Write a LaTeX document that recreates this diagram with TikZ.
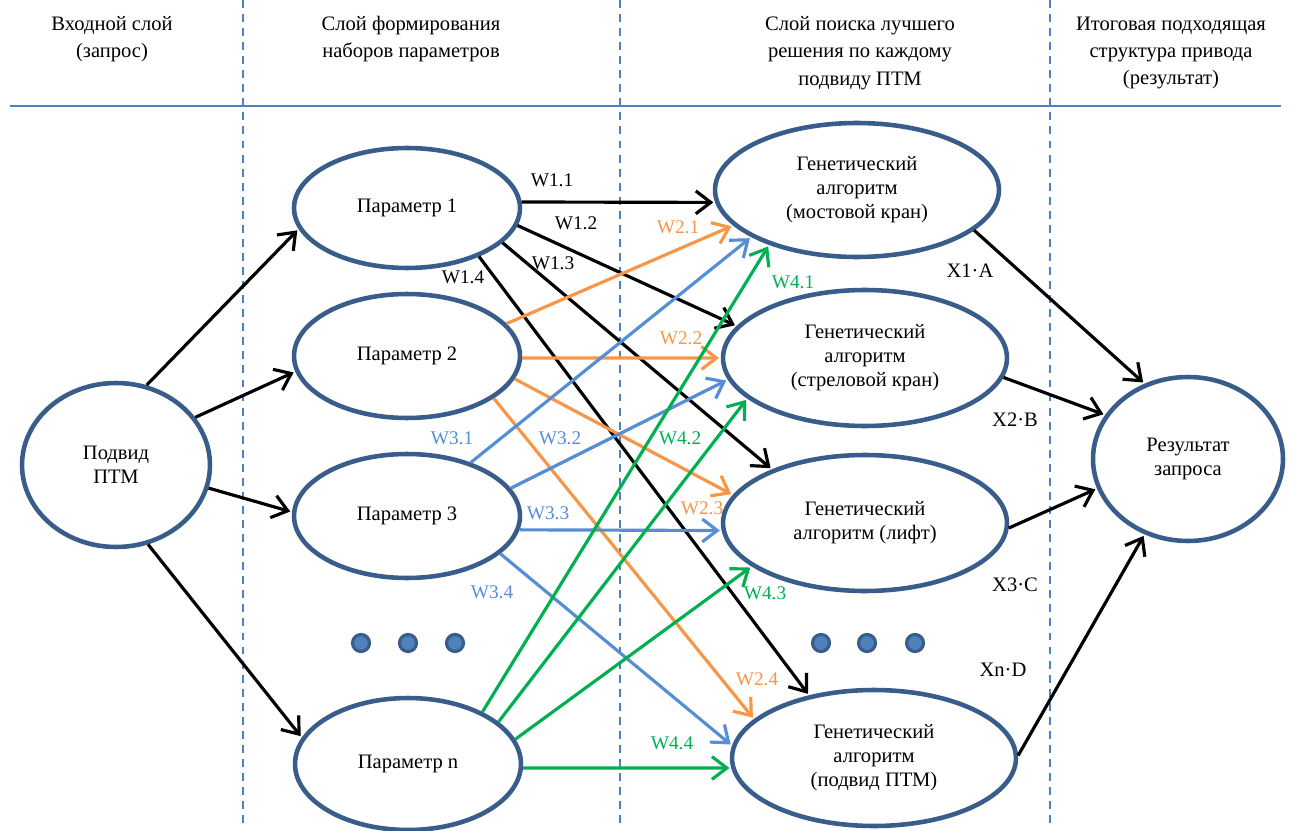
\documentclass[tikz,border=0pt]{standalone}
\usepackage{fontspec}
\setmainfont{Liberation Serif}
\usetikzlibrary{arrows.meta,shapes.geometric}

\definecolor{nodeblue}{HTML}{385D8A}
\definecolor{lineblue}{HTML}{4F81BD}
\definecolor{wblue}{HTML}{558ED5}
\definecolor{worange}{HTML}{F79646}
\definecolor{wgreen}{HTML}{00B050}

\tikzset{
  layer/.style={ellipse, draw=nodeblue, line width=2.6pt, inner sep=0pt,
    align=center, font=\fontsize{11.7}{13.7}\selectfont},
  head/.style={align=center, font=\fontsize{11.7}{15.6}\selectfont},
  divider/.style={draw=lineblue, line width=0.85pt, dash pattern=on 4.5pt off 3.5pt},
  rule/.style={draw=lineblue, line width=1.2pt},
  moredots/.style={circle, draw=nodeblue, fill=lineblue, line width=1.8pt,
    minimum size=0.34cm, inner sep=0pt},
  wire/.style={line width=1.8pt},
  wlabel/.style={font=\fontsize{11}{13}\selectfont, inner sep=0pt},
  xlabel/.style={font=\fontsize{11.7}{13}\selectfont, inner sep=0pt}
}

\begin{document}
\begin{tikzpicture}[x=0.02cm, y=-0.02cm, shorten >=1pt,
    >={Straight Barb[length=8.5pt,width=13pt]}]
  \useasboundingbox (0,0) rectangle (1295,831);

  % columns
  \foreach \cx/\cn in {243/a, 620/b, 1050/c} {
    \coordinate (top\cn) at (\cx,0);
    \coordinate (bot\cn) at (\cx,831);
    \draw[divider] (top\cn) -- (bot\cn);
  }
  \coordinate (rl) at (10,106);
  \coordinate (rr) at (1283,106);
  \draw[rule] (rl) -- (rr);

  \node[head] (h1) at (112,39) {Входной слой\\(запрос)};
  \node[head] (h2) at (411,39) {Слой формирования\\наборов параметров};
  \node[head] (h3) at (860,53) {Слой поиска лучшего\\решения по каждому\\подвиду ПТМ};
  \node[head] (h4) at (1171,53) {Итоговая подходящая\\структура привода\\(результат)};

  % input
  \node[layer, minimum width=3.76cm, minimum height=3.28cm] (sub) at (116,465) {Подвид\\ПТМ};

  % parameters
  \node[layer, minimum width=4.52cm, minimum height=2.40cm] (p1) at (407,208) {Параметр 1};
  \node[layer, minimum width=4.52cm, minimum height=2.48cm] (p2) at (407,356) {Параметр 2};
  \node[layer, minimum width=4.52cm, minimum height=2.48cm] (p3) at (407,516) {Параметр 3};
  \node[layer, minimum width=4.52cm, minimum height=2.64cm] (pn) at (408,764) {Параметр n};
  \foreach \dx [count=\i] in {361,408,455}
    \node[moredots] (ld\i) at (\dx,643) {};

  % genetic algorithms
  \node[layer, minimum width=5.68cm, minimum height=2.68cm] (ga1) at (857,190) {Генетический\\алгоритм\\(мостовой кран)};
  \node[layer, minimum width=5.68cm, minimum height=2.72cm] (ga2) at (865,358) {Генетический\\алгоритм\\(стреловой кран)};
  \node[layer, minimum width=5.68cm, minimum height=2.72cm] (ga3) at (865,523) {Генетический\\алгоритм (лифт)};
  \node[layer, minimum width=5.68cm, minimum height=2.72cm] (ga4) at (874,758) {Генетический\\алгоритм\\(подвид ПТМ)};
  \foreach \dx [count=\i] in {821,867,915}
    \node[moredots] (rd\i) at (\dx,643) {};

  % result
  \node[layer, minimum width=3.80cm, minimum height=3.28cm] (res) at (1188,459) {Результат\\запроса};

  \path[->, wire] (sub.69) edge (p1.191)
                  (sub.31) edge (p2.188)
                  (sub.346) edge (p3.178)
                  (sub.292) edge (pn.166);

  \path[->, wire] (p1.3) edge (ga1.185)
                  (p1.351) edge (ga2.166)
                  (p1.340) edge (ga3.150)
                  (p1.326) edge (ga4.136);

  \path[->, wire, worange] (p2.18) edge (ga1.196)
                           (p2.359) edge (ga2.180)
                           (p2.348) edge (ga3.168)
                           (p2.334) edge (ga4.162);

  \path[->, wire, wblue] (p3.40) edge (ga1.204)
                         (p3.15) edge (ga2.189)
                         (p3.353) edge (ga3.183)
                         (p3.338) edge (ga4.175);

  \path[->, wire, wgreen] (pn.35) edge (ga1.212)
                          (pn.25) edge (ga2.199)
                          (pn.13) edge (ga3.201)
                          (pn.358) edge (ga4.184);

  \path[->, wire] (ga1.341) edge (res.120)
                  (ga2.352) edge (res.152)
                  (ga3.358) edge (res.198)
                  (ga4.1) edge (res.240);

  % weights
  \node[wlabel] (w11) at (552,180) {W1.1};
  \node[wlabel] (w12) at (576,223) {W1.2};
  \node[wlabel] (w13) at (553,263) {W1.3};
  \node[wlabel] (w14) at (463,277) {W1.4};
  \node[wlabel, worange] (w21) at (678,227) {W2.1};
  \node[wlabel, worange] (w22) at (681,338) {W2.2};
  \node[wlabel, worange] (w23) at (702,508) {W2.3};
  \node[wlabel, worange] (w24) at (757,679) {W2.4};
  \node[wlabel, wblue] (w31) at (452,438) {W3.1};
  \node[wlabel, wblue] (w32) at (560,438) {W3.2};
  \node[wlabel, wblue] (w33) at (548,513) {W3.3};
  \node[wlabel, wblue] (w34) at (492,592) {W3.4};
  \node[wlabel, wgreen] (w41) at (793,282) {W4.1};
  \node[wlabel, wgreen] (w42) at (680,438) {W4.2};
  \node[wlabel, wgreen] (w43) at (765,593) {W4.3};
  \node[wlabel, wgreen] (w44) at (672,743) {W4.4};

  \node[xlabel] (x1) at (970,271) {X1·A};
  \node[xlabel] (x2) at (1015,420) {X2·B};
  \node[xlabel] (x3) at (1015,585) {X3·C};
  \node[xlabel] (xn) at (1003,670) {Xn·D};
\end{tikzpicture}
\end{document}
